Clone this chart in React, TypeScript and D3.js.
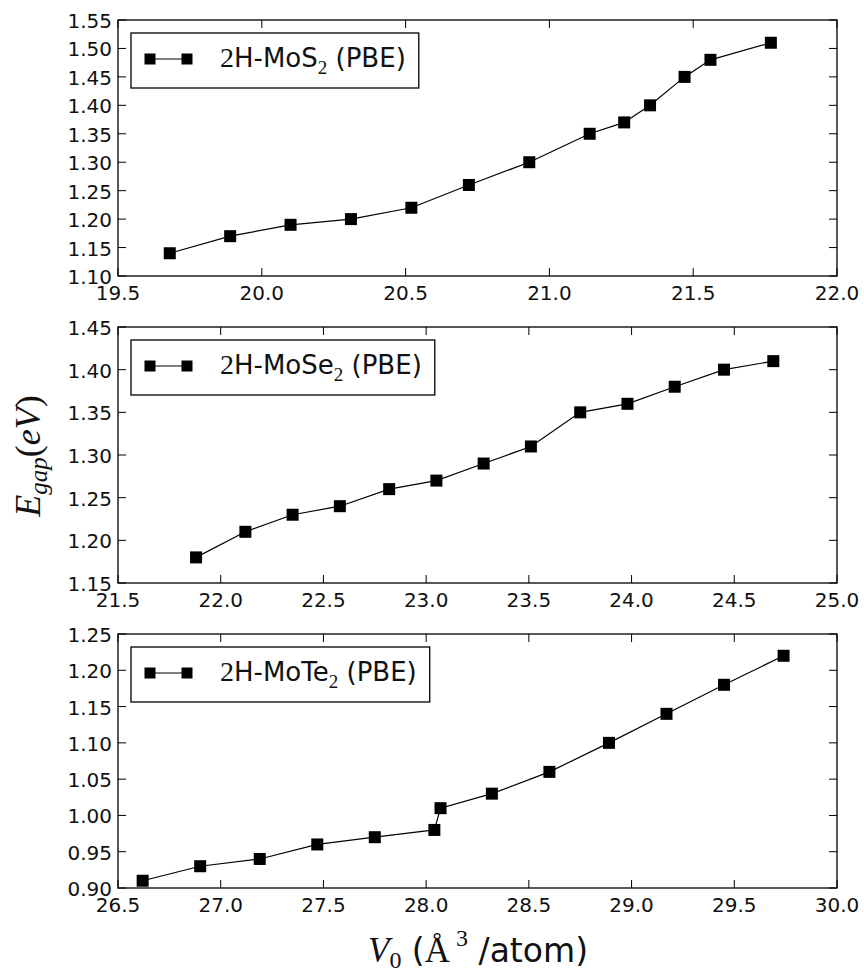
import React, { useEffect, useRef } from "react";
import * as d3 from "d3";

// ---- data ----
const mos2V = [19.68, 19.89, 20.10, 20.31, 20.52, 20.72, 20.93, 21.14, 21.26, 21.35, 21.47, 21.56, 21.77];
const mos2E = [1.14, 1.17, 1.19, 1.20, 1.22, 1.26, 1.30, 1.35, 1.37, 1.40, 1.45, 1.48, 1.51];

const mose2V = [21.88, 22.12, 22.35, 22.58, 22.82, 23.05, 23.28, 23.51, 23.75, 23.98, 24.21, 24.45, 24.69];
const mose2E = [1.18, 1.21, 1.23, 1.24, 1.26, 1.27, 1.29, 1.31, 1.35, 1.36, 1.38, 1.40, 1.41];

const mote2V = [26.62, 26.90, 27.19, 27.47, 27.75, 28.04, 28.07, 28.32, 28.60, 28.89, 29.17, 29.45, 29.74];
const mote2E = [0.91, 0.93, 0.94, 0.96, 0.97, 0.98, 1.01, 1.03, 1.06, 1.10, 1.14, 1.18, 1.22];

const mos2XTicks = [19.5, 20.0, 20.5, 21.0, 21.5, 22.0];
const mos2YTicks = [1.10, 1.15, 1.20, 1.25, 1.30, 1.35, 1.40, 1.45, 1.50, 1.55];
const mose2XTicks = [21.5, 22.0, 22.5, 23.0, 23.5, 24.0, 24.5, 25.0];
const mose2YTicks = [1.15, 1.20, 1.25, 1.30, 1.35, 1.40, 1.45];
const mote2XTicks = [26.5, 27.0, 27.5, 28.0, 28.5, 29.0, 29.5, 30.0];
const mote2YTicks = [0.90, 0.95, 1.00, 1.05, 1.10, 1.15, 1.20, 1.25];

const labels = ["MoS", "MoSe", "MoTe"];

const SANS = "'DejaVu Sans', sans-serif";
const SERIF = "'Liberation Serif', 'DejaVu Serif', serif";

export default function App() {
  const ref = useRef<SVGSVGElement | null>(null);

  useEffect(() => {
    const svg = d3.select(ref.current);
    svg.selectAll("*").remove();

    const left = 118, right = 837;
    const panels = [
      { v: mos2V, e: mos2E, xt: mos2XTicks, yt: mos2YTicks, top: 20, bottom: 276, label: labels[0] },
      { v: mose2V, e: mose2E, xt: mose2XTicks, yt: mose2YTicks, top: 327, bottom: 583, label: labels[1] },
      { v: mote2V, e: mote2E, xt: mote2XTicks, yt: mote2YTicks, top: 634, bottom: 888, label: labels[2] },
    ];

    panels.forEach((p) => {
      const x = d3.scaleLinear().domain([p.xt[0], p.xt[p.xt.length - 1]]).range([left, right]);
      const y = d3.scaleLinear().domain([p.yt[0], p.yt[p.yt.length - 1]]).range([p.bottom, p.top]);
      const g = svg.append("g");
      const tl = 8;

      // ticks
      p.xt.forEach((t) => {
        g.append("line").attr("x1", x(t)).attr("x2", x(t)).attr("y1", p.bottom).attr("y2", p.bottom - tl)
          .attr("stroke", "#000").attr("stroke-width", 1);
        g.append("line").attr("x1", x(t)).attr("x2", x(t)).attr("y1", p.top).attr("y2", p.top + tl)
          .attr("stroke", "#000").attr("stroke-width", 1);
        g.append("text").attr("x", x(t)).attr("y", p.bottom + 24).attr("text-anchor", "middle")
          .attr("font-family", SANS).attr("font-size", 20).attr("fill", "#111")
          .text(d3.format(".1f")(t));
      });
      p.yt.forEach((t) => {
        g.append("line").attr("x1", left).attr("x2", left + tl).attr("y1", y(t)).attr("y2", y(t))
          .attr("stroke", "#000").attr("stroke-width", 1);
        g.append("line").attr("x1", right).attr("x2", right - tl).attr("y1", y(t)).attr("y2", y(t))
          .attr("stroke", "#000").attr("stroke-width", 1);
        g.append("text").attr("x", left - 6).attr("y", y(t) + 8).attr("text-anchor", "end")
          .attr("font-family", SANS).attr("font-size", 20).attr("fill", "#111")
          .text(d3.format(".2f")(t));
      });

      // frame
      g.append("rect").attr("x", left).attr("y", p.top).attr("width", right - left).attr("height", p.bottom - p.top)
        .attr("fill", "none").attr("stroke", "#000").attr("stroke-width", 1.3);

      // line + markers
      const pts = p.v.map((v, i) => [v, p.e[i]] as [number, number]);
      const line = d3.line<[number, number]>().x((d) => x(d[0])).y((d) => y(d[1]));
      g.append("path").attr("d", line(pts)).attr("fill", "none").attr("stroke", "#000").attr("stroke-width", 1.2);
      const ms = 12;
      g.selectAll("rect.m").data(pts).enter().append("rect").attr("class", "m")
        .attr("x", (d) => x(d[0]) - ms / 2).attr("y", (d) => y(d[1]) - ms / 2)
        .attr("width", ms).attr("height", ms).attr("fill", "#000");

      // legend
      const lx = left + 13, ly = p.top + 13, lh = 55;
      const lg = g.append("g");
      const box = lg.append("rect").attr("x", lx).attr("y", ly).attr("height", lh)
        .attr("fill", "#fff").attr("stroke", "#000").attr("stroke-width", 1.3);
      const my = ly + 26;
      lg.append("line").attr("x1", lx + 19).attr("x2", lx + 56).attr("y1", my).attr("y2", my)
        .attr("stroke", "#000").attr("stroke-width", 1.2);
      [lx + 19, lx + 56].forEach((cx) => {
        lg.append("rect").attr("x", cx - 5.5).attr("y", my - 5.5).attr("width", 11).attr("height", 11).attr("fill", "#000");
      });
      const txt = lg.append("text").attr("x", lx + 89).attr("y", ly + 34)
        .attr("font-family", SANS).attr("font-size", 26).attr("fill", "#111");
      txt.append("tspan").attr("font-family", SERIF).attr("font-size", 28).text("2");
      txt.append("tspan").text("H-" + p.label);
      txt.append("tspan").attr("font-family", SERIF).attr("font-size", 19).attr("dy", 7).text("2");
      txt.append("tspan").attr("dy", -7).text("\u00a0(PBE)");
      const tw = (txt.node() as SVGTextElement).getComputedTextLength();
      box.attr("width", 89 + tw + 13);
    });

    // y label
    const yl = svg.append("text").attr("transform", "translate(40,456) rotate(-90)").attr("text-anchor", "middle")
      .attr("font-family", SERIF).attr("font-size", 36).attr("fill", "#111");
    yl.append("tspan").attr("font-style", "italic").text("E");
    yl.append("tspan").attr("font-style", "italic").attr("font-size", 25).attr("dy", 7).text("gap");
    yl.append("tspan").attr("dy", -7).text("(");
    yl.append("tspan").attr("font-style", "italic").text("eV");
    yl.append("tspan").text(")");

    // x label
    const xl = svg.append("text").attr("x", 478).attr("y", 962).attr("text-anchor", "middle")
      .attr("font-family", SANS).attr("font-size", 33).attr("fill", "#111");
    xl.append("tspan").attr("font-family", SERIF).attr("font-style", "italic").attr("font-size", 35).text("V");
    xl.append("tspan").attr("font-family", SERIF).attr("font-size", 24).attr("dy", 6).text("0");
    xl.append("tspan").attr("dy", -6).text("\u00a0(");
    xl.append("tspan").attr("font-family", SERIF).attr("font-size", 35).text("Å");
    xl.append("tspan").attr("font-family", SERIF).attr("font-size", 24).attr("dx", 6).attr("dy", -16).text("3");
    xl.append("tspan").attr("dy", 16).text("\u00a0/atom)");
  }, []);

  return (
    <svg ref={ref} width={864} height={973} style={{ position: "absolute", left: 0, top: 0, background: "#fff" }} />
  );
}
